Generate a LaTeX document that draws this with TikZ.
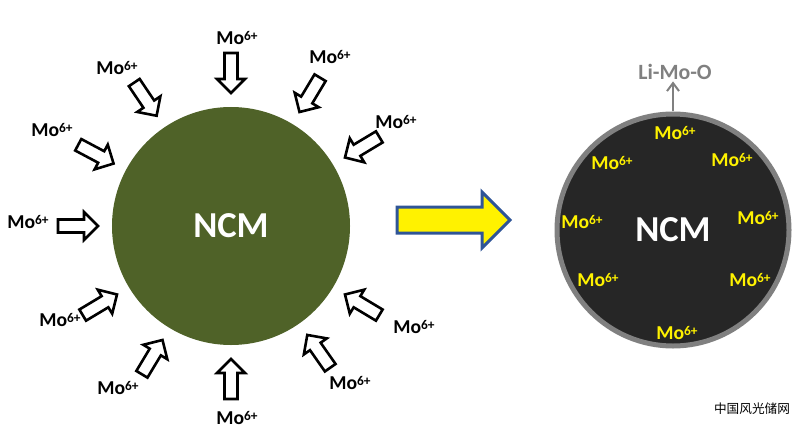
\documentclass[tikz,border=0pt]{standalone}
\usepackage{fontspec}
\setmainfont{Carlito}
\newfontfamily\cjk{Noto Sans CJK SC}
\usetikzlibrary{arrows.meta}
\definecolor{ncmgreen}{HTML}{4F6228}
\definecolor{coredark}{HTML}{262626}
\definecolor{shellgray}{HTML}{808080}
\definecolor{arrowblue}{HTML}{2F5597}
\newcommand{\moion}{Mo\raisebox{2.6pt}{\fontsize{9.5}{10}\selectfont 6+}}
\tikzset{
  inarrow/.pic={\draw[line width=0.65mm,fill=white,line join=miter] (0,0) -- (-14,14) -- (-14,6.5) -- (-40,6.5) -- (-40,-6.5) -- (-14,-6.5) -- (-14,-14) -- cycle;},
  ion/.style={font=\fontsize{14}{16}\selectfont\bfseries,inner sep=1pt},
  core/.style={circle,inner sep=0,text=white,font=\fontsize{26}{30}\selectfont\bfseries}
}
\begin{document}
\begin{tikzpicture}[x=0.25mm,y=0.25mm]
  \useasboundingbox (0,0) rectangle (800,439);
  \node[core,fill=ncmgreen,minimum size=59.5mm] (lc) at (231,213) {NCM};
  \foreach \a/\lx/\ly [count=\i] in {90/237/401,59/330/382,31/396/317,-31/414/112,-55/350/56,-90/237/21,-121/118/51,-149/60/119,180/28/217,152/52/309,124/117/371} {
    \pic[rotate=\a+180] at ({231+133*cos(\a)},{213+133*sin(\a)}) {inarrow};
    \node[ion] (ion\i) at (\lx,\ly) {\moion};
  }
  \draw[arrowblue,line width=0.75mm,fill=yellow,line join=miter] (397,206) -- (482,206) -- (482,191) -- (510,219) -- (482,247) -- (482,232) -- (397,232) -- cycle;
  \node[core,fill=coredark,draw=shellgray,line width=1.25mm,minimum size=58mm] (rc) at (673,209) {NCM};
  \foreach \x/\y [count=\i] in {675/306,612/276,732/279,582/217,758/221,598/159,750/159,677/106}
    \node[ion,text=yellow] (dope\i) at (\x,\y) {\moion};
  \node[font=\fontsize{15.5}{18}\selectfont\bfseries,text=shellgray,inner sep=1pt] (limo) at (675,367) {Li-Mo-O};
  \draw[shellgray,line width=0.5mm,-{Straight Barb[length=2mm,width=3mm]}] (rc.north) -- (rc.north |- limo.south);
  \node[font=\cjk\fontsize{9}{11}\selectfont] (mark) at (752,30) {中国风光储网};
\end{tikzpicture}
\end{document}
